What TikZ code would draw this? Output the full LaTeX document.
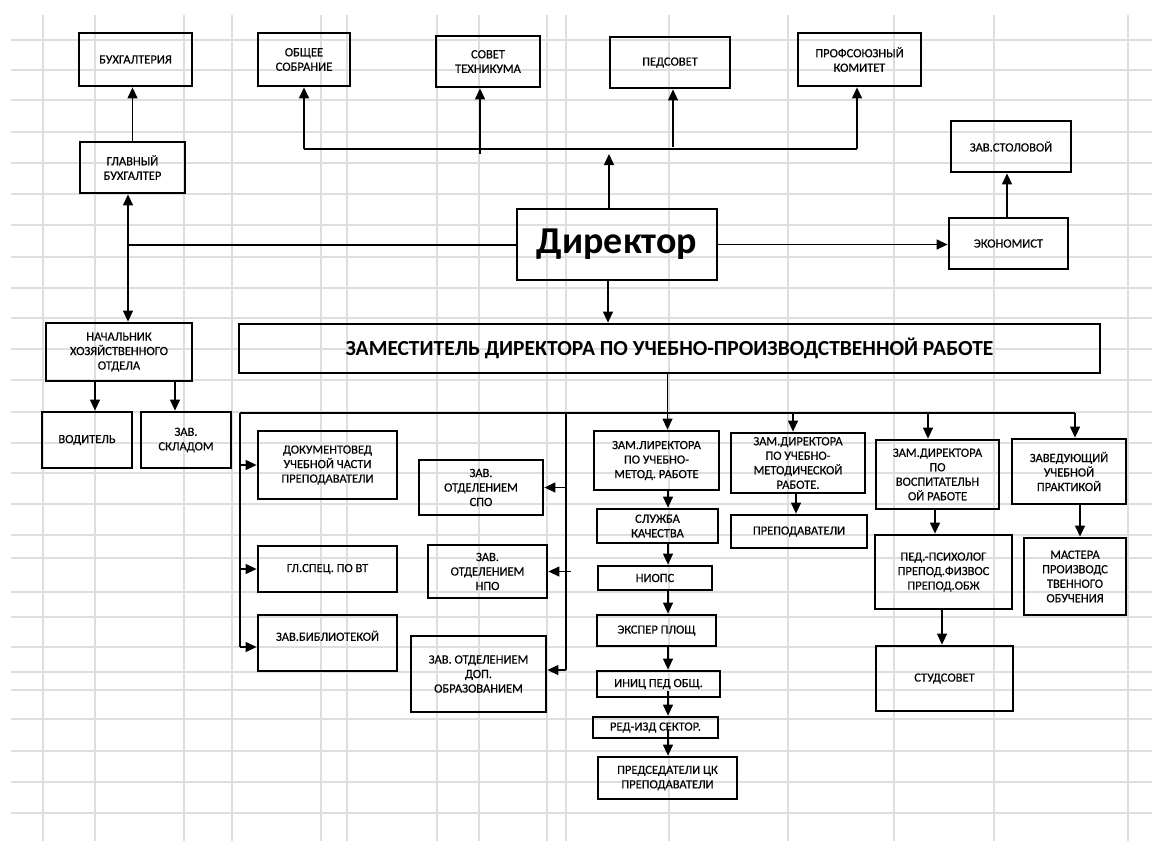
\documentclass[tikz,border=0pt]{standalone}
\usepackage{fontspec}
\setmainfont{Carlito}
\newfontfamily\boxfont[FakeBold=0.4]{Carlito}
\usetikzlibrary{arrows.meta}

\begin{document}
\begin{tikzpicture}[x=1pt, y=-1pt,
  box/.style={
    draw,
    line width=2.8pt,
    align=center,
    inner sep=1pt,
    font=\boxfont\fontsize{12.5}{14.5}\selectfont
  },
  dim/.style 2 args={minimum width=#1pt, minimum height=#2pt},
  arr/.style={-{Triangle[length=11pt, width=10pt]}, line width=1.3pt},
  line/.style={line width=1.3pt},
  cell/.style={draw=black!13, line width=1.1pt}
]

% Sheet with cell grid
\useasboundingbox (0,0) rectangle (1152,841);
\fill[white] (0,0) rectangle (1152,841);
\foreach \gx in {43,95,184,232,321,347,437,479,547,566,669,788,894,994,1128}
  \draw[cell] (\gx,15) -- (\gx,841);
\foreach \gy in {40,70,100,132,163,194,225,257,288,318,349,380,412,443,473,504,535,558,592,617,647,672,690,719,751,782,813}
  \draw[cell] (11,\gy) -- (1152,\gy);

% Top row
\node[box, dim={113}{53}] (buh) at (135.5,59.5) {БУХГАЛТЕРИЯ};
\node[box, dim={92}{53}] (obsh) at (304,59.5) {ОБЩЕЕ\\СОБРАНИЕ};
\node[box, dim={104}{51}] (sovet) at (488,61.5) {СОВЕТ\\ТЕХНИКУМА};
\node[box, dim={120}{51}] (pedsov) at (670,62.5) {ПЕДСОВЕТ};
\node[box, dim={123}{53}] (profkom) at (859.5,59.5) {ПРОФСОЮЗНЫЙ\\КОМИТЕТ};

% Director level
\node[box, dim={105}{51}] (glbuh) at (132.5,167.5) {ГЛАВНЫЙ\\БУХГАЛТЕР};
\node[box, dim={120}{51}] (stol) at (1011,146.5) {ЗАВ.СТОЛОВОЙ};
\node[box, dim={200}{71}, font=\fontsize{38}{40}\selectfont\bfseries] (dir) at (617,244.5) {Директор};
\node[box, dim={119}{51}] (ekon) at (1008.5,243.5) {ЭКОНОМИСТ};

% Deputy and household
\node[box, dim={146}{58}] (nach) at (119,352) {НАЧАЛЬНИК\\ХОЗЯЙСТВЕННОГО\\ОТДЕЛА};
\node[box, dim={861}{49}, font=\fontsize{21.5}{26}\selectfont\bfseries] (zam) at (669.5,348.5) {ЗАМЕСТИТЕЛЬ ДИРЕКТОРА ПО УЧЕБНО-ПРОИЗВОДСТВЕННОЙ РАБОТЕ};
\node[box, dim={90}{56}] (vod) at (87,440) {ВОДИТЕЛЬ};
\node[box, dim={90}{56}] (sklad) at (186,440) {ЗАВ.\\СКЛАДОМ};

% Left branch
\node[box, dim={139}{68}] (dokum) at (327.5,465) {ДОКУМЕНТОВЕД\\УЧЕБНОЙ ЧАСТИ\\ПРЕПОДАВАТЕЛИ};
\node[box, dim={139}{46}] (glspec) at (327.5,569) {ГЛ.СПЕЦ. ПО ВТ};
\node[box, dim={139}{56}] (bibl) at (327.5,643) {ЗАВ.БИБЛИОТЕКОЙ\\~};
\node[box, dim={124}{55}] (spo) at (481,487.5) {ЗАВ.\\ОТДЕЛЕНИЕМ\\СПО};
\node[box, dim={119}{53}] (npo) at (487.5,571.5) {ЗАВ.\\ОТДЕЛЕНИЕМ\\НПО};
\node[box, dim={135}{76}] (dop) at (478.5,674) {ЗАВ. ОТДЕЛЕНИЕМ\\ДОП.\\ОБРАЗОВАНИЕМ};

% Methodical chain
\node[box, dim={125}{59}] (zlir) at (656.5,460.5) {ЗАМ.ЛИРЕКТОРА\\ПО УЧЕБНО-\\МЕТОД. РАБОТЕ};
\node[box, dim={121}{34}] (sluzh) at (657.5,526) {СЛУЖБА\\КАЧЕСТВА};
\node[box, dim={114}{24}] (niops) at (655,578) {НИОПС};
\node[box, dim={119}{31}] (eksp) at (656.5,630.5) {ЭКСПЕР ПЛОЩ};
\node[box, dim={123}{26}] (inic) at (658.5,684) {ИНИЦ ПЕД ОБЩ.};
\node[box, dim={125}{21}] (redizd) at (655.5,727.5) {РЕД-ИЗД СЕКТОР.};
\node[box, dim={139}{42}] (pred) at (667.5,778) {ПРЕДСЕДАТЕЛИ ЦК\\ПРЕПОДАВАТЕЛИ};

% Right branches
\node[box, dim={134}{60}] (zmet) at (798,463) {ЗАМ.ДИРЕКТОРА\\ПО УЧЕБНО-\\МЕТОДИЧЕСКОЙ\\РАБОТЕ.};
\node[box, dim={136}{33}] (prepod) at (799,531.5) {ПРЕПОДАВАТЕЛИ};
\node[box, dim={123}{69}] (zvos) at (937.5,474.5) {ЗАМ.ДИРЕКТОРА\\ПО\\ВОСПИТАТЕЛЬН\\ОЙ РАБОТЕ};
\node[box, dim={137}{74}] (psych) at (943.5,572) {ПЕД.-ПСИХОЛОГ\\ПРЕПОД.ФИЗВОС\\ПРЕПОД.ОБЖ};
\node[box, dim={137}{65}] (studs) at (944.5,678.5) {СТУДСОВЕТ};
\node[box, dim={114}{65}] (zprak) at (1069,471.5) {ЗАВЕДУЮЩИЙ\\УЧЕБНОЙ\\ПРАКТИКОЙ};
\node[box, dim={102}{77}] (mast) at (1075,576.5) {МАСТЕРА\\ПРОИЗВОДС\\ТВЕННОГО\\ОБУЧЕНИЯ};

% Junctions
\coordinate (topbus) at (0,149);
\coordinate (lj) at (128,245);
\coordinate (bus) at (240,413);
\coordinate (sub) at (566,413);
\coordinate (chain) at (668,0);

% Arrows: top
\draw[line] (obsh.south |- topbus) -- ([xshift=-2.5pt]profkom.south |- topbus);
\draw[arr] (obsh.south |- topbus) -- (obsh.south);
\draw[arr] ([xshift=-8pt, yshift=-5pt]sovet.south |- topbus) -- ([xshift=-8pt]sovet.south);
\draw[arr] ([xshift=3pt, yshift=2pt]pedsov.south |- topbus) -- ([xshift=3pt]pedsov.south);
\draw[arr] ([xshift=-2.5pt]profkom.south |- topbus) -- ([xshift=-2.5pt]profkom.south);
\draw[arr] ([xshift=-8pt]dir.north) -- ([xshift=-8pt, yshift=-5pt]dir.north |- topbus);

% Arrows: left and right of director
\draw[arr] (glbuh.north) -- (glbuh.north |- buh.south);
\draw[line] (lj) -- (lj -| dir.west);
\draw[arr] (lj) -- (lj |- glbuh.south);
\draw[arr] (lj) -- (lj |- nach.north);
\draw[arr] ([xshift=-24pt]nach.south) -- ([xshift=-24pt]nach.south |- vod.north);
\draw[arr] ([xshift=56pt]nach.south) -- ([xshift=56pt]nach.south |- sklad.north);
\draw[arr] (dir.east) -- (dir.east -| ekon.west);
\draw[arr] ([xshift=-1.5pt]ekon.north) -- ([xshift=-1.5pt]ekon.north |- stol.south);
\draw[arr] ([xshift=-9pt]dir.south) -- ([xshift=-9pt]dir.south |- zam.north);

% Arrows: deputy bus
\draw[line] (bus) -- ([xshift=6pt]zprak.north |- bus);
\draw[line] (bus) -- ([yshift=-4pt]bus |- bibl.west);
\draw[arr] (bus |- dokum.west) -- (dokum.west);
\draw[arr] (bus |- glspec.west) -- (glspec.west);
\draw[arr] ([yshift=-4pt]bus |- bibl.west) -- ([yshift=-4pt]bibl.west);
\draw[line] (sub) -- ([yshift=4pt]sub |- dop.east);
\draw[arr] (sub |- spo.east) -- (spo.east);
\draw[arr] ([xshift=5pt]sub |- npo.east) -- (npo.east);
\draw[arr] ([yshift=4pt]sub |- dop.east) -- ([yshift=4pt]dop.east);
\draw[arr] ([xshift=-2pt]zam.south) -- ([xshift=-2pt]zam.south |- zlir.north);
\draw[arr] ([xshift=-5pt]zmet.north |- bus) -- ([xshift=-5pt]zmet.north);
\draw[arr] ([xshift=-9.5pt]zvos.north |- bus) -- ([xshift=-9.5pt]zvos.north);
\draw[arr] ([xshift=6pt]zprak.north |- bus) -- ([xshift=6pt]zprak.north);

% Arrows: chains
\draw[arr] (chain |- zlir.south) -- (chain |- sluzh.north);
\draw[arr] (chain |- sluzh.south) -- (chain |- niops.north);
\draw[arr] (chain |- niops.south) -- (chain |- eksp.north);
\draw[arr] (chain |- eksp.south) -- (chain |- inic.north);
\draw[arr] ([yshift=7pt]chain |- inic.south) -- (chain |- redizd.north);
\draw[arr] ([yshift=10pt]chain |- redizd.south) -- (chain |- pred.north);
\draw[arr] ([xshift=-2pt]zmet.south) -- ([xshift=-2pt]zmet.south |- prepod.north);
\draw[arr] ([xshift=-2.5pt]zvos.south) -- ([xshift=-2.5pt]zvos.south |- psych.north);
\draw[arr] ([xshift=-1.5pt]psych.south) -- ([xshift=-1.5pt]psych.south |- studs.north);
\draw[arr] ([xshift=11pt]zprak.south) -- ([xshift=11pt]zprak.south |- mast.north);

\end{tikzpicture}
\end{document}
